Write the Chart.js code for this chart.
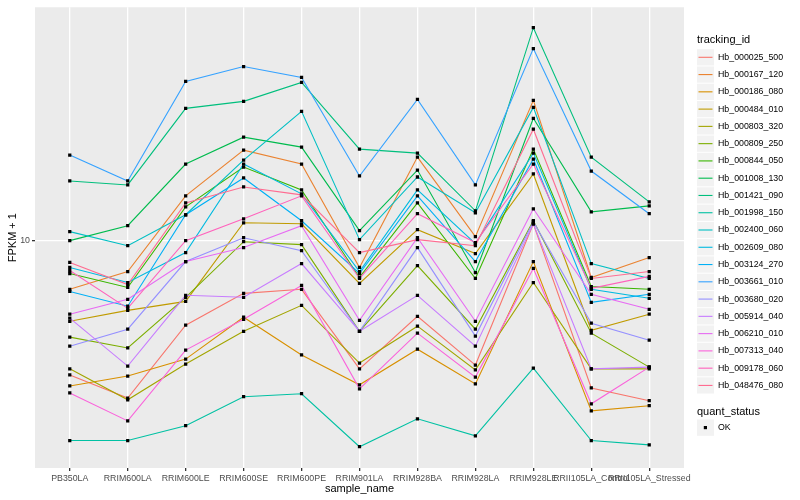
<!DOCTYPE html>
<html>
<head>
<meta charset="utf-8">
<script src="https://cdn.jsdelivr.net/npm/chart.js@4.4.0/dist/chart.umd.min.js"></script>
<style>
  html, body { margin: 0; padding: 0; background: #fff; }
  #wrap { width: 800px; height: 500px; }
</style>
</head>
<body>
<div id="wrap"><canvas id="grafico" width="800" height="500"></canvas></div>
<script>
// Muestras (eje x)
const sampleNames = ['PB350LA', 'RRIM600LA', 'RRIM600LE', 'RRIM600SE', 'RRIM600PE', 'RRIM901LA',
  'RRIM928BA', 'RRIM928LA', 'RRIM928LE', 'RRII105LA_Control', 'RRII105LA_Stressed'];

// FPKM + 1 por gen
const hb_000025_500 = [3.55, 2.97, 5.21, 6.66, 6.87, 3.72, 5.58, 3.83, 11.39, 3.21, 2.91];
const hb_000167_120 = [6.87, 7.88, 14.13, 20.10, 18.06, 8.13, 19.05, 10.31, 29.52, 7.53, 8.78];
const hb_000186_080 = [3.26, 3.52, 4.01, 5.54, 4.14, 3.29, 4.33, 3.31, 8.51, 2.69, 2.80];
const hb_000484_010 = [5.37, 5.84, 6.26, 11.48, 11.39, 7.19, 10.88, 9.05, 16.73, 5.01, 5.67];
const hb_000803_320 = [3.72, 2.93, 3.86, 4.97, 6.07, 3.89, 5.17, 3.69, 7.24, 3.72, 3.72];
const hb_000809_250 = [4.75, 4.37, 6.46, 9.92, 9.70, 4.97, 8.25, 5.05, 11.66, 4.90, 3.77];
const hb_000844_050 = [7.76, 6.97, 12.98, 17.64, 14.79, 7.53, 13.38, 7.47, 20.26, 7.02, 6.87];
const hb_001008_130 = [10.00, 11.22, 18.06, 22.22, 20.58, 10.80, 17.24, 7.82, 25.70, 12.49, 13.08];
const hb_001421_090 = [15.85, 15.37, 27.75, 29.29, 33.89, 20.26, 19.64, 12.59, 51.70, 19.05, 13.49];
const hb_001998_150 = [2.14, 2.14, 2.40, 3.00, 3.07, 2.04, 2.53, 2.22, 3.74, 2.14, 2.07];
const hb_002400_060 = [10.72, 9.62, 12.21, 18.62, 27.12, 10.08, 16.34, 12.40, 27.96, 8.38, 7.47];
const hb_002609_080 = [8.13, 7.24, 9.12, 18.06, 14.35, 7.88, 14.79, 9.77, 19.64, 6.87, 6.41];
const hb_003124_270 = [6.76, 6.03, 12.21, 16.22, 11.66, 7.76, 14.13, 8.51, 18.77, 6.21, 6.61];
const hb_003661_010 = [19.35, 15.85, 34.15, 38.31, 35.21, 16.47, 29.74, 15.37, 43.99, 17.11, 12.31];
const hb_003680_020 = [4.43, 5.05, 8.51, 10.23, 9.26, 4.97, 9.48, 4.79, 11.57, 5.29, 4.64];
const hb_005914_040 = [5.50, 3.80, 6.56, 6.46, 8.38, 4.97, 6.56, 4.43, 11.39, 3.72, 3.77];
const hb_006210_010 = [5.67, 6.36, 8.51, 9.48, 11.22, 5.41, 10.23, 5.37, 12.79, 6.61, 5.89];
const hb_007313_040 = [3.09, 2.49, 4.30, 5.45, 7.08, 3.19, 4.90, 3.49, 8.07, 2.84, 3.77];
const hb_009178_060 = [7.94, 5.93, 10.00, 11.84, 14.13, 7.47, 12.31, 9.85, 18.06, 6.92, 7.59];
const hb_048476_080 = [8.45, 7.13, 13.38, 15.13, 14.24, 9.12, 10.08, 9.62, 23.62, 7.47, 7.88];

const trackingIds = ['Hb_000025_500', 'Hb_000167_120', 'Hb_000186_080', 'Hb_000484_010', 'Hb_000803_320',
  'Hb_000809_250', 'Hb_000844_050', 'Hb_001008_130', 'Hb_001421_090', 'Hb_001998_150',
  'Hb_002400_060', 'Hb_002609_080', 'Hb_003124_270', 'Hb_003661_010', 'Hb_003680_020',
  'Hb_005914_040', 'Hb_006210_010', 'Hb_007313_040', 'Hb_009178_060', 'Hb_048476_080'];

const series = [hb_000025_500, hb_000167_120, hb_000186_080, hb_000484_010, hb_000803_320,
  hb_000809_250, hb_000844_050, hb_001008_130, hb_001421_090, hb_001998_150,
  hb_002400_060, hb_002609_080, hb_003124_270, hb_003661_010, hb_003680_020,
  hb_005914_040, hb_006210_010, hb_007313_040, hb_009178_060, hb_048476_080];

// Paleta hue de ggplot para 20 grupos
const colores = ['#F8766D', '#EA8331', '#D89000', '#C09B00', '#A3A500', '#7CAE00', '#39B600', '#00BB4E',
  '#00BF7D', '#00C1A3', '#00BFC4', '#00BAE0', '#00B0F6', '#35A2FF', '#9590FF', '#C77CFF',
  '#E76BF3', '#FA62DB', '#FF62BC', '#FF6C91'];

const yTicks = [10];
const FONT = '"Liberation Sans", Arial, sans-serif';

// Fondo gris del panel
const panelPlugin = {
  id: 'panel',
  beforeDraw(chart) {
    const a = chart.chartArea;
    const ctx = chart.ctx;
    ctx.save();
    ctx.fillStyle = '#EBEBEB';
    ctx.fillRect(a.left, a.top, a.right - a.left, a.bottom - a.top);
    ctx.restore();
  }
};

// Títulos de ejes y leyenda estilo ggplot
const leyendaPlugin = {
  id: 'leyenda',
  afterDraw(chart) {
    const ctx = chart.ctx;
    const a = chart.chartArea;
    ctx.save();
    ctx.fillStyle = '#000';
    ctx.font = '11px ' + FONT;
    ctx.textBaseline = 'middle';
    ctx.textAlign = 'center';
    ctx.fillText('sample_name', (a.left + a.right) / 2, 489);
    ctx.save();
    ctx.translate(13, (a.top + a.bottom) / 2);
    ctx.rotate(-Math.PI / 2);
    ctx.fillText('FPKM + 1', 0, 0);
    ctx.restore();

    ctx.textAlign = 'left';
    ctx.fillText('tracking_id', 697, 40);
    const step = 17.27;
    trackingIds.forEach((id, i) => {
      const cy = 57.3 + i * step;
      ctx.fillStyle = '#F2F2F2';
      ctx.fillRect(697, cy - step / 2 + 0.5, 17, step - 1);
      ctx.strokeStyle = colores[i];
      ctx.lineWidth = 1.1;
      ctx.beginPath();
      ctx.moveTo(698.5, cy);
      ctx.lineTo(712.5, cy);
      ctx.stroke();
      ctx.fillStyle = '#000';
      ctx.font = '8.8px ' + FONT;
      ctx.fillText(id, 718, cy);
    });

    ctx.font = '11px ' + FONT;
    ctx.fillText('quant_status', 697, 411.5);
    ctx.fillStyle = '#F2F2F2';
    ctx.fillRect(697, 419.5, 17, 16.3);
    ctx.fillStyle = '#000';
    ctx.fillRect(703.8, 426, 3.2, 3.2);
    ctx.font = '8.8px ' + FONT;
    ctx.fillText('OK', 718, 427.7);
    ctx.restore();
  }
};

const lineDatasets = series.map((vals, i) => ({
  label: trackingIds[i],
  data: vals.map((v, j) => ({ x: j, y: v })),
  borderColor: colores[i],
  backgroundColor: colores[i],
  borderWidth: 1.1,
  pointRadius: 0,
  tension: 0,
  fill: false,
  order: 20 - i
}));

const puntosDataset = {
  label: 'OK',
  data: series.flatMap(vals => vals.map((v, j) => ({ x: j, y: v }))),
  showLine: false,
  pointStyle: 'rect',
  pointRadius: 2.3,
  pointBorderWidth: 0,
  pointBackgroundColor: '#000',
  borderColor: '#000',
  order: 0
};

const ctx = document.getElementById('grafico').getContext('2d');
new Chart(ctx, {
  type: 'line',
  data: { datasets: [...lineDatasets, puntosDataset] },
  options: {
    responsive: false,
    animation: false,
    devicePixelRatio: 1,
    layout: { padding: { top: 5, right: 116, bottom: 0, left: 0 } },
    plugins: {
      legend: { display: false },
      tooltip: { enabled: false }
    },
    scales: {
      x: {
        type: 'linear',
        min: -0.6,
        max: sampleNames.length - 1 + 0.6,
        bounds: 'data',
        afterBuildTicks: (s) => { s.ticks = sampleNames.map((n, i) => ({ value: i })); },
        afterFit: (s) => { s.height = 32; },
        border: { display: false },
        grid: { color: '#FFFFFF', lineWidth: 1.3, tickColor: '#333333', tickLength: 3 },
        ticks: {
          autoSkip: false,
          maxRotation: 0,
          minRotation: 0,
          padding: 2,
          color: '#4D4D4D',
          font: { family: FONT, size: 8.8 },
          callback: (v) => sampleNames[v]
        }
      },
      y: {
        type: 'logarithmic',
        min: 1.7313,
        max: 60.51,
        bounds: 'data',
        afterBuildTicks: (s) => { s.ticks = yTicks.map(v => ({ value: v })); },
        afterFit: (s) => { s.width = 35; },
        border: { display: false },
        grid: { color: '#FFFFFF', lineWidth: 1.3, tickColor: '#333333', tickLength: 3 },
        ticks: {
          padding: 2,
          color: '#4D4D4D',
          font: { family: FONT, size: 8.8 },
          callback: (v) => String(v)
        }
      }
    }
  },
  plugins: [panelPlugin, leyendaPlugin]
});
</script>
</body>
</html>
